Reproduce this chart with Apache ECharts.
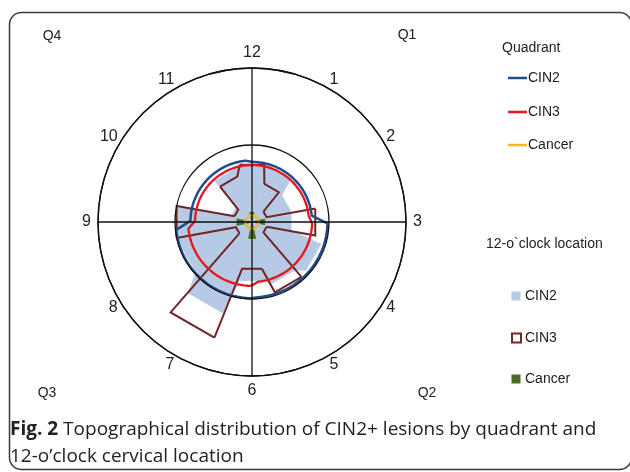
<!DOCTYPE html>
<html><head><meta charset="utf-8">
<script src="https://cdn.jsdelivr.net/npm/echarts@6/dist/echarts.min.js"></script>
<style>html,body{margin:0;padding:0;background:#fff}#c{width:630px;height:472px}</style>
</head><body><div id="c"></div>
<script>
// ---- data ----
const hourLabels = ['12','1','2','3','4','5','6','7','8','9','10','11'];
const quadrantLabels = ['Q1','Q2','Q3','Q4'];
// quadrant series (Q1..Q4), radius units (outer ring = 100)
const quadCIN2   = [39, 49, 49.5, 40];
const quadCIN3   = [37, 39, 41.5, 37];
const quadCancer = [4.3, 4.3, 4.3, 4.3];
// 12-o'clock location series (12,1,...,11)
const locCIN2   = [38, 38, 26, 26, 47, 42, 39, 62, 49, 49, 14, 36];
const locCIN3   = [38, 26, 10, 42, 10, 48, 31, 79, 11, 50, 12, 31];
const locCancer = [6.5, 0, 0, 8.5, 0, 0, 11, 0, 0, 10, 0, 0];

// ---- styles ----
const HALF = 12;           // half width of an hour wedge (deg)
const ARC0 = 1, ARC1 = 84; // quadrant arc span inside each quadrant (deg)
const C_Q2 = '#1f4e8a', C_Q3 = '#e8161c', C_QC = '#f6b914';
const C_L2 = '#b6c9e5', C_L3 = '#6e2626', C_LC = '#4e6b2a';
const FONT = 'Liberation Sans';

function hourSeries(values, mode, color, lw, z) {
  return {
    type: 'custom', coordinateSystem: 'polar', polarIndex: 0, silent: true, z: z,
    data: values.map((v, i) => [v, i * 30]),
    renderItem(params, api) {
      const i = params.dataIndex, n = values.length;
      const r = api.value(0), a = api.value(1);
      const rn = values[(i + 1) % n];
      const p1 = api.coord([r, a - HALF]);
      const p2 = api.coord([r, a + HALF]);
      const p3 = api.coord([rn, a + 30 - HALF]);
      if (mode === 'fill') {
        const c = api.coord([0, 0]);
        return { type: 'polygon', shape: { points: [c, p1, p2, p3] },
                 style: { fill: color, stroke: color, lineWidth: 0.6 } };
      }
      return { type: 'polyline', shape: { points: [p1, p2, p3] },
               style: { fill: null, stroke: color, lineWidth: lw, lineJoin: 'miter' } };
    }
  };
}
function quadSeries(values, color, lw, z) {
  return {
    type: 'custom', coordinateSystem: 'polar', polarIndex: 0, silent: true, z: z,
    data: values.map((v, i) => [v, i * 90 + 45]),
    renderItem(params, api) {
      const i = params.dataIndex, n = values.length;
      const r = api.value(0);
      const pts = [];
      for (let a = i * 90 + ARC0; a <= i * 90 + ARC1; a += 1) pts.push(api.coord([r, a]));
      pts.push(api.coord([values[(i + 1) % n], (i + 1) * 90 + ARC0]));
      return { type: 'polyline', shape: { points: pts },
               style: { fill: null, stroke: color, lineWidth: lw } };
    }
  };
}

const chart = echarts.init(document.getElementById('c'));
const txt = (x, y, s, size, align) => ({ type: 'text', x: x, y: y, silent: true,
  style: { text: s, fill: '#222', font: size + 'px "' + FONT + '"', align: align || 'left', verticalAlign: 'middle' } });

const graphic = [
  { type: 'rect', shape: { x: 9.5, y: 12.5, width: 622, height: 457, r: 12 }, silent: true, z: -10,
    style: { fill: 'none', stroke: '#3a3a3a', lineWidth: 1.5 } },
  txt(52, 36, quadrantLabels[3], 14, 'center'),
  txt(407, 35, quadrantLabels[0], 14, 'center'),
  txt(427, 393, quadrantLabels[1], 14, 'center'),
  txt(47, 393, quadrantLabels[2], 14, 'center'),
  txt(502, 48, 'Quadrant', 14),
  { type: 'line', shape: { x1: 508, y1: 78, x2: 527, y2: 78 }, style: { stroke: C_Q2, lineWidth: 2.5 } },
  { type: 'line', shape: { x1: 508, y1: 112, x2: 527, y2: 112 }, style: { stroke: C_Q3, lineWidth: 2.5 } },
  { type: 'line', shape: { x1: 508, y1: 145, x2: 527, y2: 145 }, style: { stroke: C_QC, lineWidth: 2.5 } },
  txt(528, 78, 'CIN2', 14), txt(528, 112, 'CIN3', 14), txt(528, 145, 'Cancer', 14),
  txt(486, 244, '12-o`clock location', 14),
  { type: 'rect', shape: { x: 511.5, y: 291.5, width: 9, height: 9 }, style: { fill: C_L2 } },
  { type: 'rect', shape: { x: 512, y: 333.5, width: 9, height: 9 }, style: { fill: '#fff', stroke: C_L3, lineWidth: 2 } },
  { type: 'rect', shape: { x: 511.5, y: 374.5, width: 9, height: 9 }, style: { fill: C_LC } },
  txt(525, 296, 'CIN2', 14), txt(525, 338, 'CIN3', 14), txt(525, 379, 'Cancer', 14),
  { type: 'text', x: 10, y: 416, silent: true,
    style: { text: '{b|Fig. 2} Topographical distribution of CIN2+ lesions by quadrant and\n12-o\u2019clock cervical location',
      fill: '#222', font: '19px "Open Sans"', lineHeight: 27,
      rich: { b: { fontWeight: 'bold', fontSize: 19, fontFamily: 'Open Sans', fill: '#222' } } } }
];

const labelAxis = (pi, cardinal, margin) => ({
  polarIndex: pi, type: 'value', min: 0, max: 360, interval: 30, startAngle: 90, clockwise: true,
  axisLine: { show: false }, axisTick: { show: false }, splitLine: { show: false },
  axisLabel: { margin: margin, color: '#222', fontSize: 16, fontFamily: FONT,
    formatter: v => {
      if (v >= 360) return '';
      const isCard = (Math.round(v) % 90) === 0;
      return isCard === cardinal ? hourLabels[Math.round(v / 30) % 12] : '';
    } }
});

chart.setOption({
  animation: false,
  polar: [{ center: [252, 222], radius: 154 }, { center: [252, 222], radius: 154 }, { center: [252, 222], radius: 154 }],
  angleAxis: [
    { polarIndex: 0, type: 'value', min: 0, max: 360, interval: 90, startAngle: 90, clockwise: true, z: 10,
      axisLine: { show: true, lineStyle: { color: '#111', width: 1.4 } },
      axisTick: { show: false }, axisLabel: { show: false },
      splitLine: { show: true, lineStyle: { color: '#111', width: 1.3 } } },
    labelAxis(1, true, 7),
    labelAxis(2, false, 1)
  ],
  radiusAxis: [
    { polarIndex: 0, type: 'value', min: 0, max: 100, interval: 50, z: 10,
      axisLine: { show: false }, axisTick: { show: false }, axisLabel: { show: false },
      splitLine: { show: true, lineStyle: { color: '#111', width: 1.3 } } },
    { polarIndex: 1, type: 'value', min: 0, max: 100, show: false },
    { polarIndex: 2, type: 'value', min: 0, max: 100, show: false }
  ],
  graphic: graphic,
  series: [
    hourSeries(locCIN2, 'fill', C_L2, 0, 2),
    hourSeries(locCancer, 'fill', C_LC, 0, 3),
    hourSeries(locCIN3, 'line', C_L3, 2, 4),
    quadSeries(quadCIN3, C_Q3, 2.3, 5),
    quadSeries(quadCIN2, C_Q2, 2.5, 6),
    quadSeries(quadCancer, C_QC, 2, 7)
  ]
});
</script></body></html>
